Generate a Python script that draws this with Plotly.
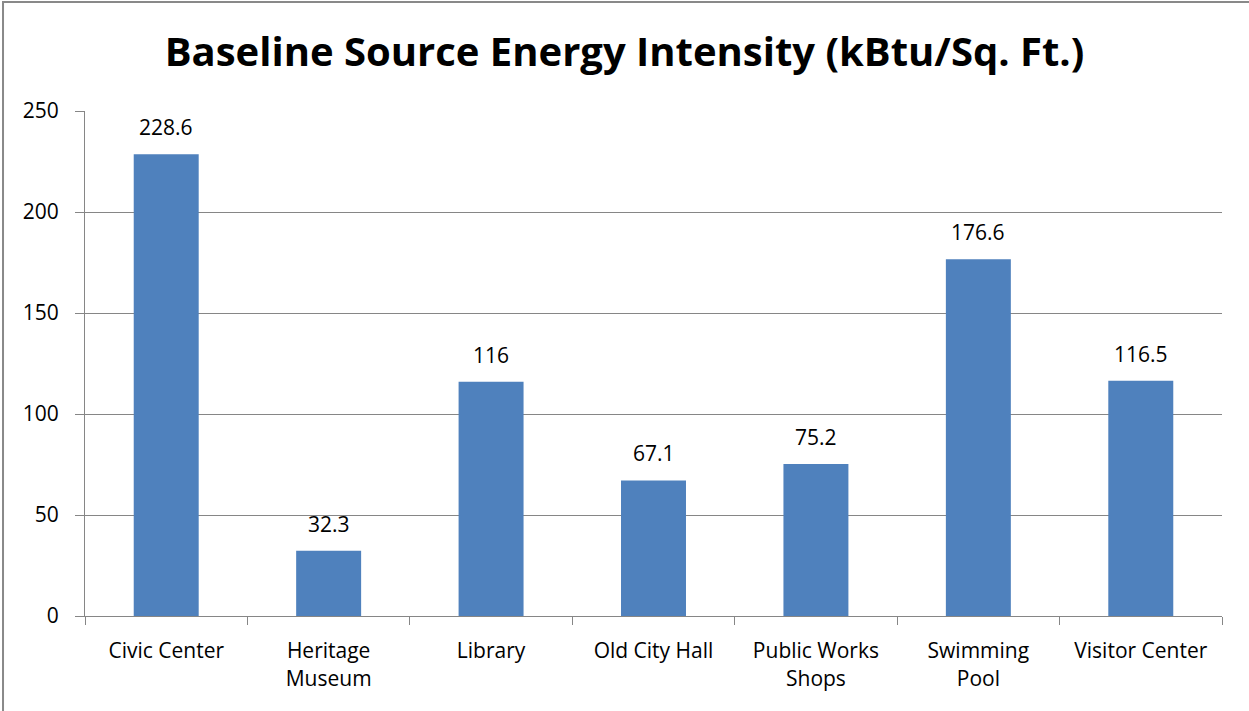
import plotly.graph_objects as go

categories = ["Civic Center", "Heritage Museum", "Library", "Old City Hall",
              "Public Works Shops", "Swimming Pool", "Visitor Center"]
tick_labels = ["Civic Center", "Heritage<br>Museum", "Library", "Old City Hall",
               "Public Works<br>Shops", "Swimming<br>Pool", "Visitor Center"]
values = [228.6, 32.3, 116, 67.1, 75.2, 176.6, 116.5]
value_labels = ["228.6", "32.3", "116", "67.1", "75.2", "176.6", "116.5"]
y_ticks = [0, 50, 100, 150, 200, 250]

FONT = "Open Sans"
fig = go.Figure(go.Bar(
    x=categories, y=values,
    marker=dict(color="#4F81BD", line=dict(width=0)),
    cliponaxis=False,
))

for c, v, t in zip(categories, values, value_labels):
    fig.add_annotation(x=c, y=v, text=t, showarrow=False, yanchor="bottom",
                       yshift=11, font=dict(family=FONT, size=21, color="#000000"))

fig.update_layout(
    width=1249, height=711,
    margin=dict(l=85, r=27, t=111, b=95),
    paper_bgcolor="white", plot_bgcolor="white",
    bargap=0.6,
    showlegend=False,
    title=dict(text="<b>Baseline Source Energy Intensity (kBtu/Sq. Ft.)</b>",
               x=0.5, xanchor="center", y=0.927, yanchor="middle",
               font=dict(family=FONT, size=40, color="#000000")),
    font=dict(family=FONT, size=21, color="#000000"),
    shapes=[dict(type="rect", xref="paper", yref="paper",
                 x0=-0.0721, x1=1.2, y0=-0.5, y1=1.216,
                 line=dict(color="#898989", width=2), fillcolor="rgba(0,0,0,0)",
                 layer="below")],
)

fig.update_xaxes(
    tickmode="array", tickvals=categories, ticktext=tick_labels,
    tickson="boundaries", ticks="outside", ticklen=8, tickcolor="#868686",
    showline=True, linecolor="#868686", linewidth=1,
    showgrid=False, tickfont=dict(family=FONT, size=21, color="#000000"),
    ticklabelstandoff=16,
)
fig.update_yaxes(
    range=[0, 250], tickvals=y_ticks, ticks="outside", ticklen=9,
    tickcolor="#868686", showline=True, linecolor="#868686", linewidth=1,
    showgrid=True, gridcolor="#868686", gridwidth=1, zeroline=False,
    tickfont=dict(family=FONT, size=21, color="#000000"),
    ticklabelstandoff=12,
)

fig.write_html("out.html", config={"displayModeBar": False},
               post_script="document.body.style.margin='0';")
